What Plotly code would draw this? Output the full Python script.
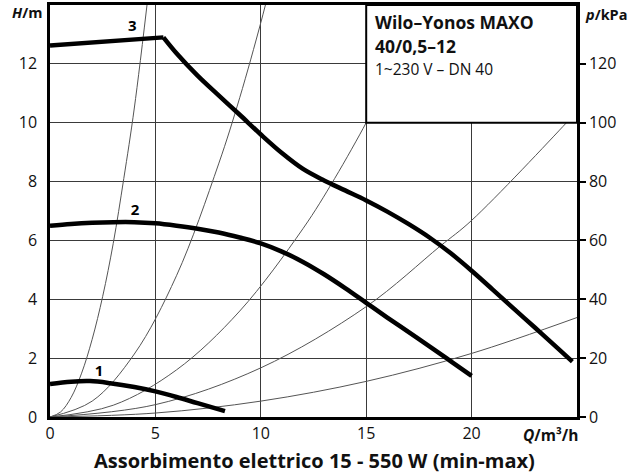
import plotly.graph_objects as go

# ---- pump curves (Q in m3/h, H in m) ----
c1_q = [0, 1.0, 1.9, 2.85, 4.0, 5.0, 6.0, 7.0, 8.3]
c1_h = [1.12, 1.2, 1.22, 1.15, 1.02, 0.87, 0.68, 0.47, 0.2]

c2_q = [0, 1, 2, 3, 4, 5, 6, 7, 8, 9, 10, 11, 12, 13, 14, 15, 16, 17, 18, 19, 20]
c2_h = [6.5, 6.56, 6.6, 6.62, 6.62, 6.58, 6.5, 6.4, 6.27, 6.1, 5.9, 5.62, 5.27, 4.85, 4.38,
        3.88, 3.38, 2.89, 2.4, 1.9, 1.4]

c3a_q = [0, 5.38]
c3a_h = [12.62, 12.9]
c3_q = [5.38, 6, 7, 8, 9, 10, 11, 12, 13, 14, 15, 16, 17, 18, 19, 20, 21, 22, 23, 24, 24.78]
c3_h = [12.9, 12.36, 11.6, 10.93, 10.27, 9.6, 8.97, 8.43, 8.04, 7.7, 7.36, 6.98, 6.56, 6.1,
        5.57, 4.97, 4.33, 3.68, 3.04, 2.39, 1.88]

# ---- system curves (thin) ----
sA_q = [0, 0.5, 1, 1.5, 2, 2.5, 3, 3.5, 4, 4.7]
sA_h = [0, 0.17, 0.66, 1.49, 2.64, 4.1, 5.9, 8.1, 10.5, 14.6]
sB_q = [0, 2, 4, 6, 8, 9, 10, 10.5]
sB_h = [0, 0.54, 2.14, 4.8, 8.6, 10.85, 13.4, 14.8]
sC_q = [0, 3, 6, 9, 12, 13.5, 15, 15.5]
sC_h = [0, 0.4, 1.6, 3.6, 6.4, 8.1, 10.0, 10.7]
sD_q = [0, 5, 10, 15, 18.5, 20, 24.5, 25]
sD_h = [0, 0.42, 1.67, 3.75, 5.8, 6.68, 10.0, 10.4]
sE_q = [0, 5, 10, 15, 20, 25]
sE_h = [0, 0.135, 0.54, 1.21, 2.16, 3.38]

x_ticks = [0, 5, 10, 15, 20]
y_ticks = [0, 2, 4, 6, 8, 10, 12]
p_ticks = [0, 20, 40, 60, 80, 100, 120]

curve_labels = ["1", "2", "3"]
label_q = [2.33, 4.04, 3.9]
label_h = [1.52, 6.98, 13.24]

FONT = "Open Sans"
W, H = 631, 473
ML, MR, MT, MB = 50, 54, 5, 56

fig = go.Figure()
for q, h in [(sA_q, sA_h), (sB_q, sB_h), (sC_q, sC_h), (sD_q, sD_h), (sE_q, sE_h)]:
    fig.add_trace(go.Scatter(x=q, y=h, mode="lines", line=dict(color="#555555", width=1, shape="spline"),
                             showlegend=False, hoverinfo="skip"))
for q, h in [(c1_q, c1_h), (c2_q, c2_h), (c3_q, c3_h)]:
    fig.add_trace(go.Scatter(x=q, y=h, mode="lines", line=dict(color="black", width=4.5, shape="spline", smoothing=1),
                             showlegend=False, hoverinfo="skip"))
fig.add_trace(go.Scatter(x=c3a_q, y=c3a_h, mode="lines", line=dict(color="black", width=4.5),
                         showlegend=False, hoverinfo="skip"))
# invisible trace for the right axis
fig.add_trace(go.Scatter(x=[0], y=[0], yaxis="y2", mode="markers", marker=dict(opacity=0),
                         showlegend=False, hoverinfo="skip"))

fig.add_trace(go.Scatter(x=label_q, y=label_h, mode="text", text=["<b>%s</b>" % t for t in curve_labels],
                         textfont=dict(family=FONT, size=15, color="black"), showlegend=False, hoverinfo="skip"))

grid = dict(showgrid=True, gridcolor="#3a3a3a", gridwidth=1.4, zeroline=False)
fig.update_layout(
    width=W, height=H,
    margin=dict(l=ML, r=MR, t=MT, b=MB),
    paper_bgcolor="white", plot_bgcolor="white",
    font=dict(family=FONT, size=16, color="#111"),
    xaxis=dict(range=[0, 25], tickvals=x_ticks, ticks="", showline=True, linecolor="black", linewidth=2.5,
               mirror=True, automargin=False, **grid),
    yaxis=dict(range=[0, 14], tickvals=y_ticks, ticks="", showline=True, linecolor="black", linewidth=2.5,
               ticklabelstandoff=7, automargin=False, **grid),
    yaxis2=dict(range=[0, 140], tickvals=p_ticks, overlaying="y", side="right", showgrid=False, zeroline=False,
                showline=True, linecolor="black", linewidth=2.5, ticks="outside", ticklen=6, tickwidth=1.5,
                tickcolor="black", automargin=False),
    shapes=[dict(type="rect", xref="x", yref="y", x0=15, x1=25, y0=10, y1=14, fillcolor="white",
                 line=dict(color="black", width=2), layer="above")],
)

ann = [
    dict(text="<b>Wilo–Yonos MAXO</b>", x=373, y=22, size=17.5, xanchor="left"),
    dict(text="<b>40/0,5–12</b>", x=373, y=46, size=17.5, xanchor="left"),
    dict(text="1~230 V – DN 40", x=373, y=69, size=15.5, xanchor="left"),
    dict(text="<b><i>H</i>/m</b>", x=44, y=13, size=14.5, xanchor="right"),
    dict(text="<b><i>p</i>/kPa</b>", x=583, y=15, size=14.5, xanchor="left"),
    dict(text="<b><i>Q</i>/m³/h</b>", x=580, y=435, size=15.5, xanchor="right"),
    dict(text="<b>Assorbimento elettrico 15 - 550 W (min-max)</b>", x=314, y=460, size=20, xanchor="center"),
]
pw, ph = W - ML - MR, H - MT - MB
for a in ann:
    fig.add_annotation(text=a["text"], x=(a["x"] - ML) / pw, y=(H - a["y"] - MB) / ph, xref="paper", yref="paper",
                       xanchor=a["xanchor"], yanchor="middle", showarrow=False,
                       font=dict(family=FONT, size=a["size"], color="#111"))

fig.write_html("out.html", config={"displayModeBar": False},
               post_script="document.body.style.margin='0px';")
